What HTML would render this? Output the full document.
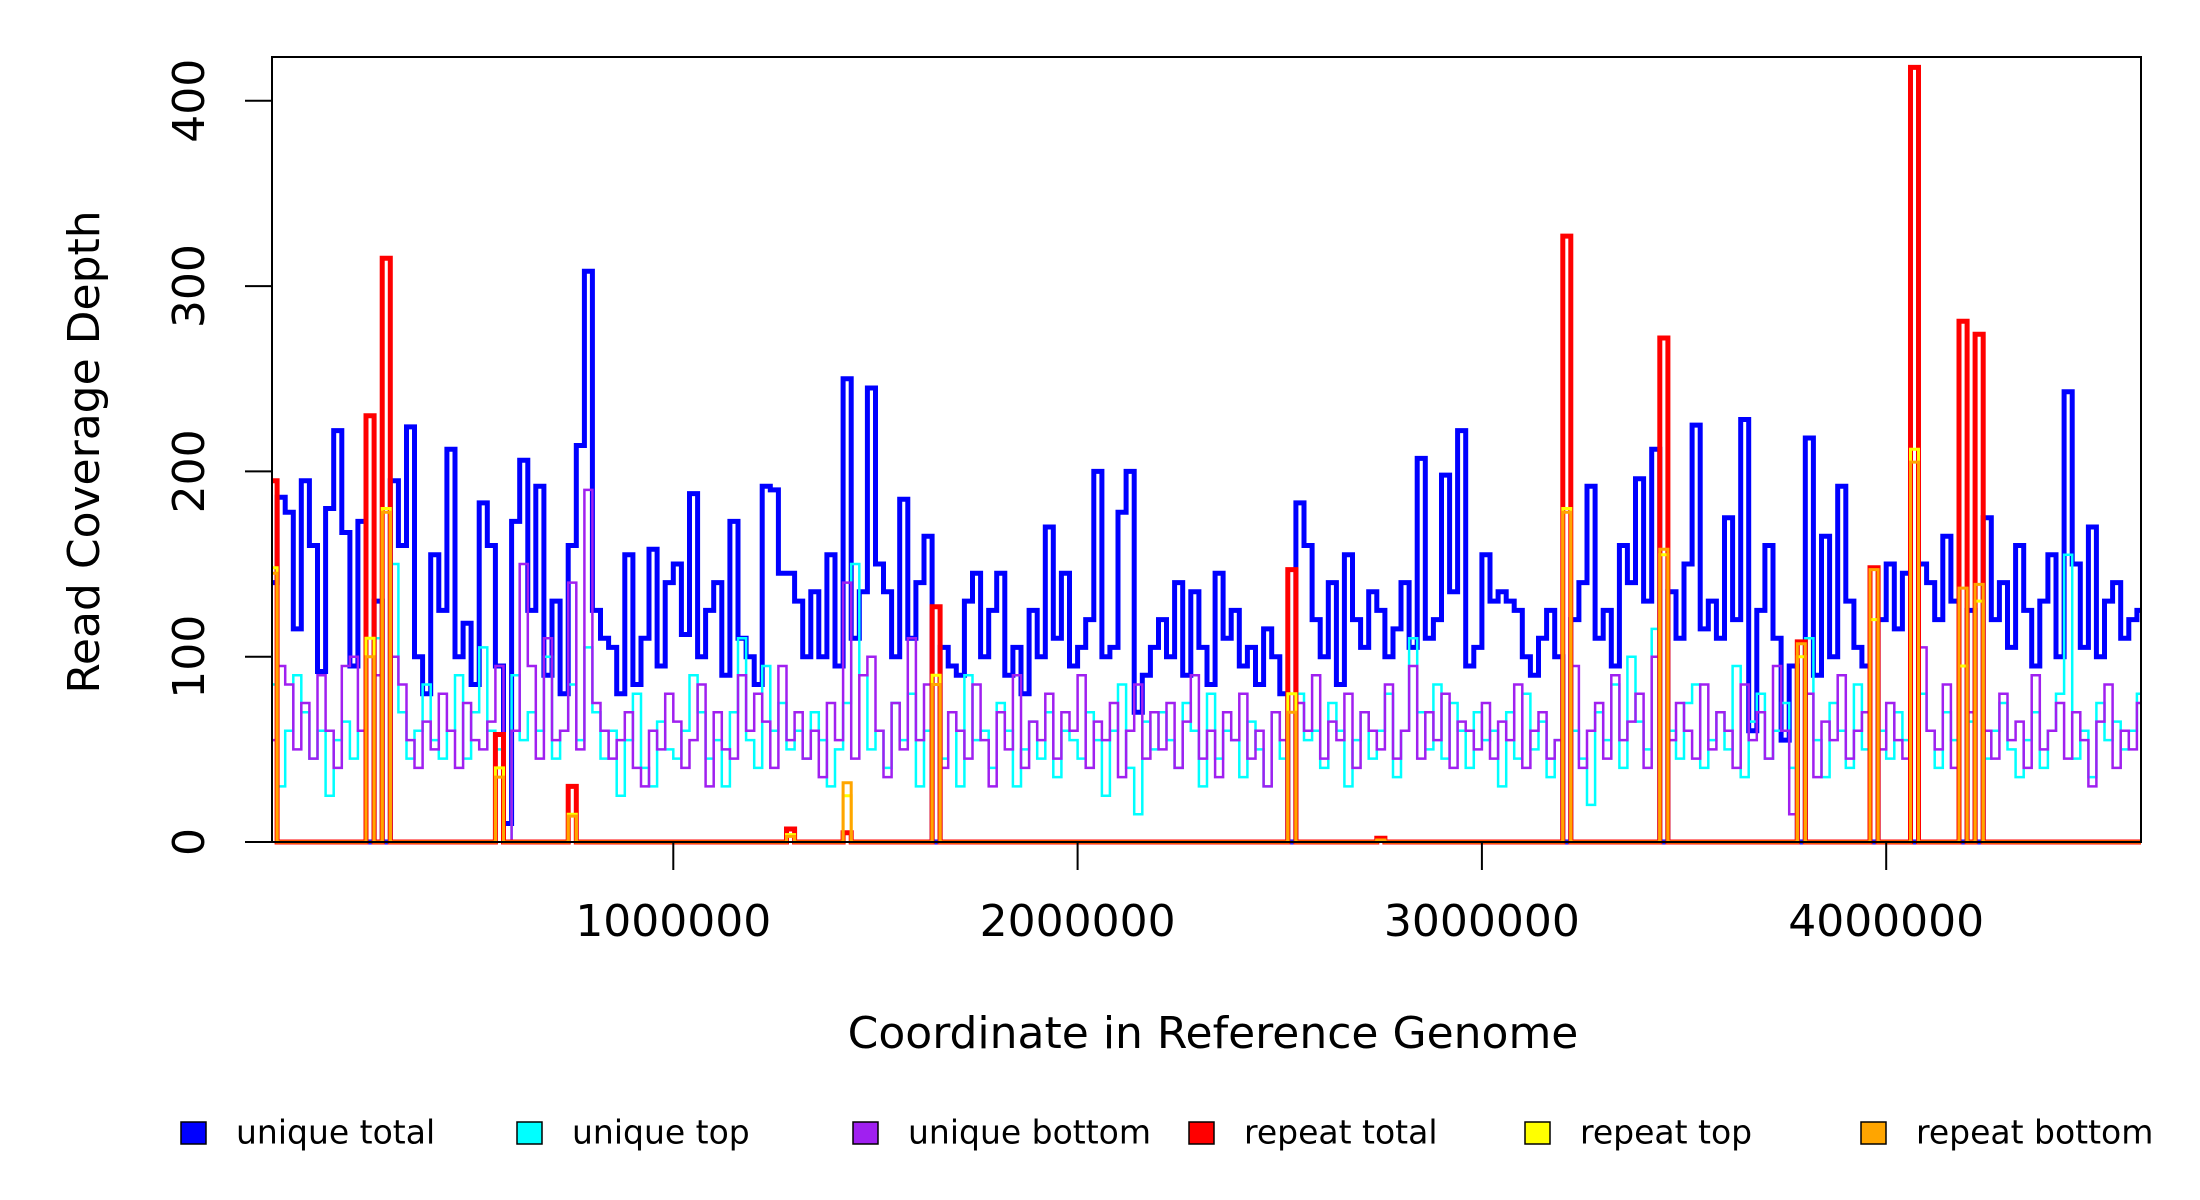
<!DOCTYPE html>
<html><head><meta charset="utf-8"><style>
html,body{margin:0;padding:0;background:#fff;}
svg{display:block;font-family:"DejaVu Sans","Liberation Sans",sans-serif;}
</style></head><body>
<svg id="chart" width="2200" height="1200" viewBox="0 0 2200 1200" xmlns="http://www.w3.org/2000/svg">
<rect x="0" y="0" width="2200" height="1200" fill="#fff"/>
<g id="series"></g>
<rect x="272" y="57" width="1869" height="785" fill="none" stroke="#000" stroke-width="2"/>
<g id="axes"></g>
<text x="87" y="452" transform="rotate(-90 87 452)" text-anchor="middle" dominant-baseline="middle" font-size="44">Read Coverage Depth</text>
<text x="1213" y="1036" text-anchor="middle" dominant-baseline="middle" font-size="44">Coordinate in Reference Genome</text>
<g id="legend"></g>
</svg>
<script>
const binSize = 20000;
const genomeLength = 4640000;
const xTicks = [1000000, 2000000, 3000000, 4000000];
const xTickLabels = ["1000000", "2000000", "3000000", "4000000"];
const yTicks = [0, 100, 200, 300, 400];
const yTickLabels = ["0", "100", "200", "300", "400"];

const uniqueTotal = [
140,186,178,115,195,160,92,180,222,167,
95,173,0,130,0,195,160,224,100,80,
155,125,212,100,118,85,183,160,95,10,
173,206,125,192,90,130,80,160,214,308,
125,110,105,80,155,85,110,158,95,140,
150,112,188,100,125,140,90,173,110,100,
85,192,190,145,145,130,100,135,100,155,
95,250,110,135,245,150,135,100,185,110,
140,165,0,105,95,90,130,145,100,125,
145,90,105,80,125,100,170,110,145,95,
105,120,200,100,105,178,200,70,90,105,
120,100,140,90,135,105,85,145,110,125,
95,105,85,115,100,80,0,183,160,120,
100,140,85,155,120,105,135,125,100,115,
140,105,207,110,120,198,135,222,95,105,
155,130,135,130,125,100,90,110,125,100,
0,120,140,192,110,125,95,160,140,196,
130,212,0,135,110,150,225,115,130,110,
175,120,228,60,125,160,110,55,95,0,
218,90,165,100,192,130,105,95,0,120,
150,115,145,0,150,140,120,165,130,0,
125,0,175,120,140,105,160,125,95,130,
155,100,243,150,105,170,100,130,140,110,
120,125];
const uniqueTop = [
85,30,60,90,70,45,60,25,55,65,
45,60,0,110,0,150,70,45,60,85,
55,45,60,90,45,70,105,60,50,0,
90,55,70,60,100,45,60,85,55,105,
70,45,60,25,55,80,40,30,65,50,
45,60,90,70,45,55,30,70,110,55,
40,95,60,75,50,60,45,70,55,30,
50,75,150,90,50,60,40,75,55,80,
30,60,0,45,70,30,90,55,60,40,
75,60,30,50,65,45,70,35,60,55,
45,70,55,25,60,85,40,15,65,50,
70,55,40,75,60,30,80,45,60,55,
35,65,50,30,70,45,0,80,55,60,
40,75,60,30,55,70,45,60,80,35,
60,110,70,50,85,45,75,60,40,70,
55,60,30,70,45,80,50,65,35,55,
0,60,45,20,70,55,85,40,100,65,
50,115,0,60,45,75,85,40,55,70,
50,95,35,65,80,45,60,75,40,0,
110,55,35,75,60,40,85,50,0,60,
45,70,55,0,80,60,40,70,55,0,
65,0,45,60,75,50,35,55,70,40,
60,80,155,45,60,35,75,55,65,50,
60,80];
const uniqueBottom = [
55,95,85,50,75,45,90,60,40,95,
100,60,0,90,0,100,85,55,40,65,
50,80,60,40,75,55,50,65,95,0,
60,150,95,45,110,55,60,140,50,190,
75,60,45,55,70,40,30,60,50,80,
65,40,55,85,30,70,50,45,90,60,
80,65,40,95,55,70,45,60,35,75,
55,140,45,90,100,60,35,75,50,110,
55,85,0,40,70,60,45,85,55,30,
70,50,90,40,65,55,80,45,70,60,
90,40,65,55,75,35,60,85,45,70,
50,75,40,65,90,45,60,35,70,55,
80,45,60,30,70,55,0,75,60,90,
45,65,55,80,40,70,60,50,85,45,
60,95,45,70,55,80,40,65,60,50,
75,45,65,55,85,40,60,70,45,55,
0,95,40,60,75,45,90,55,65,80,
40,100,0,55,75,60,45,85,50,70,
60,40,85,55,70,45,95,60,15,0,
80,35,65,55,90,45,60,70,0,50,
75,55,45,0,105,60,50,85,40,0,
70,0,60,45,80,55,65,40,90,50,
60,75,45,70,55,30,65,85,40,60,
50,75];
const repeatBins   = [0,12,14,28,37,64,71,82,126,137,160,172,189,198,203,209,211];
const repeatTotal  = [195,230,315,58,30,7,5,127,147,2,327,272,108,148,418,281,274];
const repeatTop    = [148,110,180,40,15,4,25,90,80,1,180,155,100,120,212,95,130];
const repeatBottom = [145,100,178,35,14,3,32,85,70,1,178,158,107,147,205,137,139];

const NS = "http://www.w3.org/2000/svg";
const X0 = 269, PX_PER_M = 404.3, Y0 = 842, PX_PER_UNIT = 1.853;
const PLOT_L = 272, PLOT_R = 2141;
function xScale(v){ return X0 + v / 1e6 * PX_PER_M; }
function yScale(v){ return Y0 - v * PX_PER_UNIT; }
const nBins = Math.ceil(genomeLength / binSize);
function expand(bins, vals){
  const out = new Array(nBins).fill(0);
  bins.forEach((b, i) => { out[b] = vals[i]; });
  return out;
}
function stepPath(vals){
  let d = "";
  vals.forEach((v, i) => {
    const xa = Math.max(PLOT_L, xScale(i * binSize));
    const xb = Math.min(PLOT_R, xScale(Math.min((i + 1) * binSize, genomeLength)));
    const y = yScale(v).toFixed(1);
    if (i === 0) d += "M" + xa.toFixed(1) + "," + y;
    else d += "V" + y;
    d += "H" + xb.toFixed(1);
  });
  return d;
}
const seriesG = document.getElementById("series");
const seriesDefs = [
  {name:"unique-total-line", vals: uniqueTotal, color:"#0000ff", w:5},
  {name:"unique-top-line", vals: uniqueTop, color:"#00ffff", w:2.5},
  {name:"unique-bottom-line", vals: uniqueBottom, color:"#a020f0", w:2.5},
  {name:"repeat-total-line", vals: expand(repeatBins, repeatTotal), color:"#ff0000", w:5},
  {name:"repeat-top-line", vals: expand(repeatBins, repeatTop), color:"#ffff00", w:3},
  {name:"repeat-bottom-line", vals: expand(repeatBins, repeatBottom), color:"#ffa500", w:3}
];
seriesDefs.forEach(s => {
  const p = document.createElementNS(NS, "path");
  p.setAttribute("d", stepPath(s.vals));
  p.setAttribute("fill", "none");
  p.setAttribute("stroke", s.color);
  p.setAttribute("stroke-width", s.w);
  p.setAttribute("stroke-linejoin", "miter");
  
  
  seriesG.appendChild(p);
});
const axesG = document.getElementById("axes");
xTicks.forEach((t, i) => {
  const x = xScale(t);
  const l = document.createElementNS(NS, "line");
  l.setAttribute("x1", x); l.setAttribute("x2", x);
  l.setAttribute("y1", 842); l.setAttribute("y2", 870);
  l.setAttribute("stroke", "#000"); l.setAttribute("stroke-width", 2);
  
  
  axesG.appendChild(l);
  const tx = document.createElementNS(NS, "text");
  tx.setAttribute("x", x); tx.setAttribute("y", 924);
  tx.setAttribute("text-anchor", "middle");
  tx.setAttribute("dominant-baseline", "middle");
  tx.setAttribute("font-size", 44);
  tx.textContent = xTickLabels[i];
  
  
  axesG.appendChild(tx);
});
yTicks.forEach((t, i) => {
  const y = yScale(t);
  const l = document.createElementNS(NS, "line");
  l.setAttribute("x1", 245); l.setAttribute("x2", 272);
  l.setAttribute("y1", y); l.setAttribute("y2", y);
  l.setAttribute("stroke", "#000"); l.setAttribute("stroke-width", 2);
  
  
  axesG.appendChild(l);
  const tx = document.createElementNS(NS, "text");
  tx.setAttribute("x", 192); tx.setAttribute("y", y);
  tx.setAttribute("transform", "rotate(-90 192 " + y + ")");
  tx.setAttribute("text-anchor", "middle");
  tx.setAttribute("dominant-baseline", "middle");
  tx.setAttribute("font-size", 44);
  tx.textContent = yTickLabels[i];
  
  
  axesG.appendChild(tx);
});
const legendLabels = ["unique total","unique top","unique bottom","repeat total","repeat top","repeat bottom"];
const legendColors = ["#0000ff","#00ffff","#a020f0","#ff0000","#ffff00","#ffa500"];
const legendG = document.getElementById("legend");
legendLabels.forEach((lab, i) => {
  const bx = 181 + i * 336;
  const r = document.createElementNS(NS, "rect");
  r.setAttribute("x", bx); r.setAttribute("y", 1122);
  r.setAttribute("width", 25); r.setAttribute("height", 22);
  r.setAttribute("fill", legendColors[i]);
  r.setAttribute("stroke", "#000"); r.setAttribute("stroke-width", 1.5);
  
  
  legendG.appendChild(r);
  const tx = document.createElementNS(NS, "text");
  tx.setAttribute("x", bx + 55); tx.setAttribute("y", 1134);
  tx.setAttribute("dominant-baseline", "middle");
  tx.setAttribute("font-size", 33);
  tx.textContent = lab;
  
  
  legendG.appendChild(tx);
});
</script>
</body></html>
